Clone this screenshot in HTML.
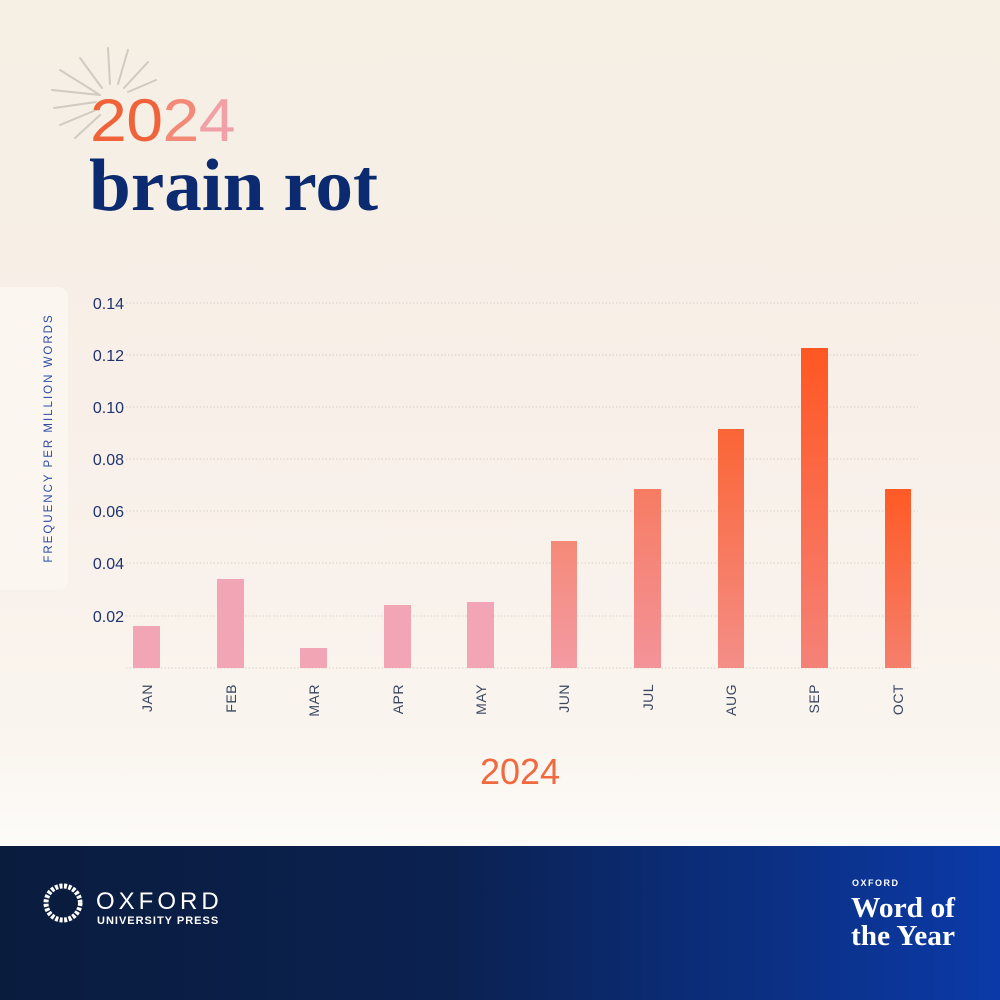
<!DOCTYPE html>
<html><head><meta charset="utf-8"><style>
html,body{margin:0;padding:0}
body{width:1000px;height:1000px;overflow:hidden;position:relative;background:linear-gradient(180deg,#f5efe4 0%,#f8efe8 40%,#faf5ef 75%,#fdfbf8 84%);font-family:"Liberation Sans",sans-serif}
.ft{position:absolute;left:0;top:846px;width:1000px;height:154px;background:linear-gradient(90deg,#0a1c3e 0%,#0b2150 45%,#0b3aa8 100%)}
</style></head><body>
<svg width="1000" height="846" style="position:absolute;left:0;top:0">
<defs>
<linearGradient id="g1" x1="0" y1="0" x2="0" y2="1"><stop offset="0" stop-color="#f58a78"/><stop offset="1" stop-color="#f49aa3"/></linearGradient>
<linearGradient id="g2" x1="0" y1="0" x2="0" y2="1"><stop offset="0" stop-color="#f67c62"/><stop offset="1" stop-color="#f4939a"/></linearGradient>
<linearGradient id="g3" x1="0" y1="0" x2="0" y2="1"><stop offset="0" stop-color="#fb6535"/><stop offset="1" stop-color="#f48e88"/></linearGradient>
<linearGradient id="g4" x1="0" y1="0" x2="0" y2="1"><stop offset="0" stop-color="#ff5722"/><stop offset="1" stop-color="#f58278"/></linearGradient>
<linearGradient id="g5" x1="0" y1="0" x2="0" y2="1"><stop offset="0" stop-color="#ff5a25"/><stop offset="1" stop-color="#f57f6c"/></linearGradient>
</defs>
<g stroke="#b8b2a8" stroke-width="2" stroke-linecap="round" opacity="0.6">
<line x1="100" y1="95" x2="52" y2="90"/><line x1="100" y1="95" x2="60" y2="70"/><line x1="102" y1="88" x2="80" y2="58"/><line x1="110" y1="84" x2="108" y2="48"/><line x1="118" y1="84" x2="128" y2="50"/><line x1="124" y1="88" x2="148" y2="62"/><line x1="128" y1="92" x2="156" y2="80"/><line x1="96" y1="102" x2="54" y2="108"/><line x1="96" y1="110" x2="60" y2="125"/><line x1="100" y1="115" x2="75" y2="138"/>
</g>
<text x="90" y="141" font-family="Liberation Sans,sans-serif" font-size="60" letter-spacing="-0.5" textLength="145" lengthAdjust="spacingAndGlyphs"><tspan fill="#f0633a">20</tspan><tspan fill="#f38a78">2</tspan><tspan fill="#f2a0a8">4</tspan></text>
<text x="89" y="210" font-family="Liberation Serif,serif" font-size="74" font-weight="bold" fill="#0b2a70" textLength="289" lengthAdjust="spacingAndGlyphs">brain rot</text>
<rect x="-10" y="287" width="78" height="303" rx="10" fill="#fbf8f1" opacity="0.8"/>
<text transform="translate(52,438) rotate(-90)" text-anchor="middle" font-size="11.5" letter-spacing="2" fill="#2a4aa8">FREQUENCY PER MILLION WORDS</text>
<g stroke="#d8d2c8" stroke-width="1" stroke-dasharray="1.5,2">
<line x1="126" y1="303" x2="918" y2="303"/><line x1="126" y1="355" x2="918" y2="355"/><line x1="126" y1="407" x2="918" y2="407"/><line x1="126" y1="459" x2="918" y2="459"/><line x1="126" y1="511" x2="918" y2="511"/><line x1="126" y1="563" x2="918" y2="563"/><line x1="126" y1="616" x2="918" y2="616"/><line x1="126" y1="668" x2="918" y2="668"/>
</g>
<g font-size="16" text-anchor="end" fill="#1f3470">
<text x="124" y="309">0.14</text><text x="124" y="361">0.12</text><text x="124" y="413">0.10</text><text x="124" y="465">0.08</text><text x="124" y="517">0.06</text><text x="124" y="569">0.04</text><text x="124" y="622">0.02</text>
</g>
<g fill="#f2a5b4">
<rect x="133" y="626" width="27" height="42"/><rect x="217" y="579" width="27" height="89"/><rect x="300" y="648" width="27" height="20"/><rect x="384" y="605" width="27" height="63"/><rect x="467" y="602" width="27" height="66"/>
</g>
<rect x="551" y="541" width="26" height="127" fill="url(#g1)"/>
<rect x="634" y="489" width="27" height="179" fill="url(#g2)"/>
<rect x="718" y="429" width="26" height="239" fill="url(#g3)"/>
<rect x="801" y="348" width="27" height="320" fill="url(#g4)"/>
<rect x="885" y="489" width="26" height="179" fill="url(#g5)"/>
<g font-size="14" fill="#3a4660" text-anchor="end" letter-spacing="0.5">
<text transform="translate(152,684) rotate(-90)">JAN</text>
<text transform="translate(236,684) rotate(-90)">FEB</text>
<text transform="translate(319,684) rotate(-90)">MAR</text>
<text transform="translate(403,684) rotate(-90)">APR</text>
<text transform="translate(486,684) rotate(-90)">MAY</text>
<text transform="translate(569,684) rotate(-90)">JUN</text>
<text transform="translate(653,684) rotate(-90)">JUL</text>
<text transform="translate(736,684) rotate(-90)">AUG</text>
<text transform="translate(819,684) rotate(-90)">SEP</text>
<text transform="translate(903,684) rotate(-90)">OCT</text>
</g>
<text x="520" y="784" text-anchor="middle" font-size="36" fill="#f0693f">2024</text>
</svg>
<div class="ft">
<svg width="1000" height="154" style="position:absolute;left:0;top:0">
<circle cx="63" cy="57" r="17" fill="none" stroke="#fff" stroke-width="5" stroke-dasharray="3,1.5"/>
<circle cx="66" cy="57" r="12" fill="#0a1c3e"/>
<text x="96" y="63" font-size="24" fill="#fff" letter-spacing="4">OXFORD</text>
<text x="97" y="78" font-size="11" font-weight="bold" fill="#fff" letter-spacing="1">UNIVERSITY PRESS</text>
<text x="852" y="40" font-size="9" font-weight="bold" fill="#fff" letter-spacing="1.5">OXFORD</text>
<text x="851" y="71" font-family="Liberation Serif,serif" font-size="29" font-weight="bold" fill="#fff" textLength="104" lengthAdjust="spacingAndGlyphs">Word of</text>
<text x="851" y="99" font-family="Liberation Serif,serif" font-size="29" font-weight="bold" fill="#fff" textLength="104" lengthAdjust="spacingAndGlyphs">the Year</text>
</svg>
</div>
</body></html>
